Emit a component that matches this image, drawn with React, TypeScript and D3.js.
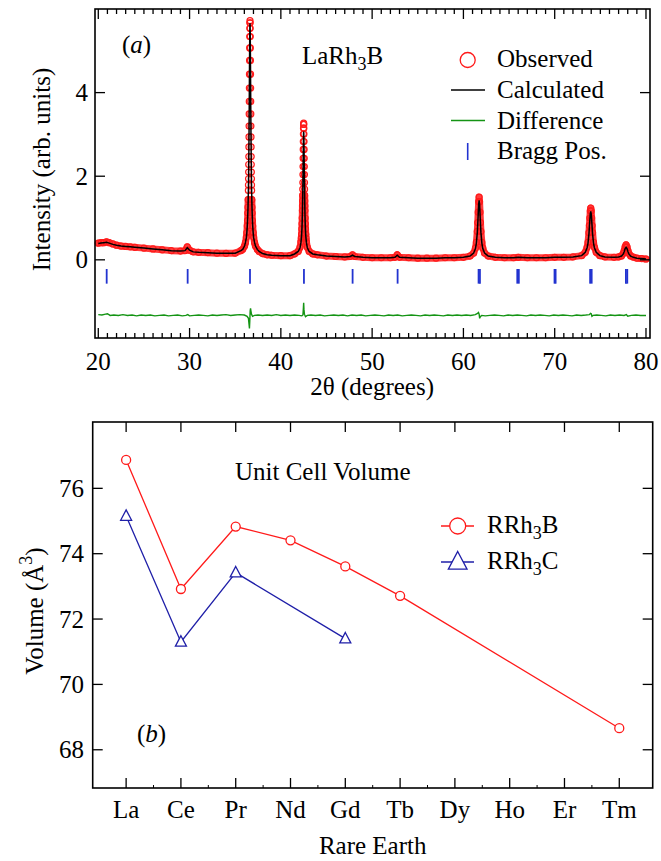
import React from 'react';
import * as d3 from 'd3';

const FONT = '"Liberation Serif", "Times New Roman", Times, serif';

// ---- panel (a): LaRh3B powder pattern, rows are [2theta, observed, calculated]
const pattern: [number, number, number][] = [
  [20.0, 0.40, 0.39], [20.3, 0.41, 0.40], [20.6, 0.41, 0.41], [20.9, 0.43, 0.42],
  [21.2, 0.41, 0.40], [21.6, 0.38, 0.37], [22.0, 0.35, 0.35], [22.5, 0.33, 0.33],
  [23.0, 0.32, 0.32], [23.5, 0.31, 0.31], [24.0, 0.30, 0.30], [25.0, 0.28, 0.28],
  [26.0, 0.26, 0.26], [27.0, 0.24, 0.24], [28.0, 0.22, 0.22], [29.0, 0.21, 0.21],
  [29.5, 0.22, 0.22], [29.75, 0.31, 0.29], [30.0, 0.23, 0.23], [30.4, 0.19, 0.19],
  [31.0, 0.18, 0.18], [32.0, 0.17, 0.17], [33.0, 0.16, 0.16], [34.0, 0.155, 0.155],
  [35.0, 0.16, 0.16], [35.62, 0.22, 0.22], [35.82, 0.25, 0.25], [36.02, 0.33, 0.33],
  [36.12, 0.41, 0.41], [36.22, 0.54, 0.53], [36.27, 0.65, 0.64], [36.32, 0.81, 0.80],
  [36.35, 0.94, 0.93], [36.38, 1.12, 1.10], [36.40, 1.26, 1.24], [36.42, 1.44, 1.42],
  [36.44, 1.66, 1.63], [36.45, 1.79, 1.76], [36.46, 1.94, 1.91], [36.47, 2.10, 2.07],
  [36.48, 2.28, 2.25], [36.49, 2.47, 2.44], [36.50, 2.70, 2.66], [36.51, 2.94, 2.90],
  [36.52, 3.20, 3.16], [36.53, 3.49, 3.44], [36.54, 3.79, 3.74], [36.55, 4.11, 4.05],
  [36.56, 4.44, 4.38], [36.57, 4.77, 4.71], [36.58, 5.07, 5.00], [36.59, 5.34, 5.27],
  [36.60, 5.54, 5.47], [36.61, 5.67, 5.60], [36.62, 5.72, 5.66], [36.63, 5.67, 5.61],
  [36.64, 5.54, 5.49], [36.65, 5.34, 5.29], [36.66, 5.07, 5.03], [36.67, 4.77, 4.73],
  [36.68, 4.44, 4.41], [36.69, 4.11, 4.08], [36.70, 3.79, 3.76], [36.71, 3.49, 3.47],
  [36.72, 3.20, 3.18], [36.73, 2.94, 2.92], [36.74, 2.70, 2.68], [36.75, 2.47, 2.45],
  [36.76, 2.28, 2.26], [36.77, 2.10, 2.09], [36.78, 1.94, 1.93], [36.79, 1.79, 1.78],
  [36.80, 1.66, 1.65], [36.82, 1.44, 1.43], [36.84, 1.26, 1.25], [36.86, 1.12, 1.11],
  [36.89, 0.94, 0.93], [36.92, 0.81, 0.80], [36.97, 0.65, 0.64], [37.02, 0.54, 0.53],
  [37.12, 0.41, 0.41], [37.22, 0.33, 0.33], [37.42, 0.25, 0.25], [37.62, 0.20, 0.20],
  [38.0, 0.15, 0.15], [38.5, 0.12, 0.12], [39.0, 0.11, 0.11], [40.0, 0.10, 0.10],
  [41.0, 0.10, 0.10], [41.5, 0.14, 0.14], [41.9, 0.20, 0.20], [42.1, 0.30, 0.29],
  [42.2, 0.43, 0.41], [42.24, 0.52, 0.50], [42.27, 0.61, 0.58], [42.30, 0.74, 0.70],
  [42.32, 0.86, 0.81], [42.34, 1.00, 0.94], [42.36, 1.18, 1.11], [42.37, 1.29, 1.21],
  [42.38, 1.41, 1.33], [42.39, 1.54, 1.45], [42.40, 1.69, 1.59], [42.41, 1.85, 1.74],
  [42.42, 2.04, 1.92], [42.43, 2.23, 2.10], [42.44, 2.43, 2.29], [42.45, 2.64, 2.48],
  [42.46, 2.83, 2.66], [42.47, 3.01, 2.83], [42.48, 3.15, 2.96], [42.49, 3.24, 3.04],
  [42.50, 3.27, 3.07], [42.51, 3.24, 3.04], [42.52, 3.15, 2.96], [42.53, 3.01, 2.83],
  [42.54, 2.83, 2.66], [42.55, 2.64, 2.48], [42.56, 2.43, 2.29], [42.57, 2.23, 2.10],
  [42.58, 2.04, 1.92], [42.59, 1.85, 1.74], [42.60, 1.69, 1.59], [42.61, 1.54, 1.45],
  [42.62, 1.41, 1.33], [42.63, 1.29, 1.21], [42.64, 1.18, 1.11], [42.66, 1.00, 0.94],
  [42.68, 0.86, 0.81], [42.70, 0.74, 0.70], [42.73, 0.61, 0.58], [42.76, 0.52, 0.50],
  [42.80, 0.43, 0.41], [42.90, 0.30, 0.29], [43.10, 0.20, 0.20], [43.5, 0.14, 0.14],
  [44.0, 0.12, 0.12], [45.0, 0.09, 0.09], [46.0, 0.08, 0.08], [47.0, 0.07, 0.07],
  [47.6, 0.08, 0.08], [47.85, 0.12, 0.11], [48.1, 0.08, 0.08], [49.0, 0.06, 0.06],
  [50.0, 0.05, 0.05], [51.0, 0.05, 0.05], [52.0, 0.05, 0.05], [52.5, 0.06, 0.06],
  [52.75, 0.12, 0.11], [53.0, 0.06, 0.06], [54.0, 0.05, 0.05], [55.0, 0.04, 0.04],
  [56.0, 0.04, 0.04], [57.0, 0.04, 0.04], [58.0, 0.05, 0.05], [59.0, 0.05, 0.05],
  [60.0, 0.06, 0.06], [60.72, 0.09, 0.09], [61.12, 0.16, 0.16], [61.32, 0.28, 0.27],
  [61.42, 0.42, 0.40], [61.52, 0.68, 0.65], [61.57, 0.89, 0.85], [61.62, 1.14, 1.09],
  [61.67, 1.39, 1.33], [61.72, 1.50, 1.42], [61.77, 1.39, 1.33], [61.82, 1.14, 1.09],
  [61.87, 0.89, 0.85], [61.92, 0.68, 0.65], [62.02, 0.42, 0.40], [62.12, 0.28, 0.27],
  [62.32, 0.16, 0.16], [62.72, 0.09, 0.09], [63.5, 0.06, 0.06], [64.5, 0.05, 0.05],
  [65.5, 0.05, 0.05], [66.0, 0.06, 0.06], [67.0, 0.05, 0.05], [68.0, 0.05, 0.05],
  [69.0, 0.05, 0.05], [70.0, 0.06, 0.06], [71.0, 0.06, 0.06], [72.0, 0.07, 0.07],
  [72.95, 0.10, 0.10], [73.35, 0.18, 0.18], [73.55, 0.30, 0.29], [73.65, 0.42, 0.40],
  [73.75, 0.65, 0.62], [73.80, 0.82, 0.78], [73.85, 1.00, 0.95], [73.90, 1.17, 1.10],
  [73.95, 1.24, 1.16], [74.00, 1.17, 1.10], [74.05, 1.00, 0.95], [74.10, 0.82, 0.78],
  [74.15, 0.65, 0.62], [74.25, 0.42, 0.40], [74.35, 0.30, 0.29], [74.55, 0.18, 0.18],
  [74.95, 0.10, 0.10], [75.5, 0.07, 0.07], [76.5, 0.06, 0.06], [77.0, 0.07, 0.07],
  [77.32, 0.094, 0.09], [77.52, 0.155, 0.14], [77.62, 0.22, 0.20], [77.72, 0.31, 0.27],
  [77.82, 0.36, 0.30], [77.92, 0.31, 0.27], [78.02, 0.22, 0.20], [78.12, 0.155, 0.14],
  [78.32, 0.094, 0.09], [78.62, 0.063, 0.06], [79.0, 0.04, 0.04], [79.5, 0.03, 0.03],
  [80.0, 0.02, 0.02],
];

// difference curve (already offset, as plotted)
const difference: [number, number][] = [
  [20.0, -1.31], [20.4, -1.32], [20.8, -1.30], [21.0, -1.29], [21.3, -1.33], [21.7, -1.32],
  [22.2, -1.33], [22.7, -1.31], [23.2, -1.33], [23.7, -1.32], [24.2, -1.34], [24.7, -1.32],
  [25.2, -1.33], [25.7, -1.32], [26.2, -1.34], [26.7, -1.33], [27.2, -1.32], [27.7, -1.34],
  [28.2, -1.33], [28.7, -1.32], [29.2, -1.34], [29.6, -1.33], [29.8, -1.31], [30.0, -1.34],
  [30.5, -1.33], [31.0, -1.32], [31.5, -1.33], [32.0, -1.34], [32.5, -1.32], [33.0, -1.33],
  [33.5, -1.32], [34.0, -1.31], [34.5, -1.33], [35.0, -1.32], [35.5, -1.31], [36.0, -1.32],
  [36.3, -1.35], [36.45, -1.40], [36.52, -1.55], [36.56, -1.64], [36.60, -1.45], [36.64, -1.22],
  [36.68, -1.16], [36.72, -1.22], [36.78, -1.30], [36.9, -1.35], [37.1, -1.33], [37.5, -1.32],
  [38.0, -1.33], [38.5, -1.32], [39.0, -1.33], [39.5, -1.31], [40.0, -1.33], [40.5, -1.32],
  [41.0, -1.33], [41.5, -1.32], [42.0, -1.33], [42.3, -1.34], [42.42, -1.32], [42.47, -1.15],
  [42.50, -1.03], [42.53, -1.18], [42.58, -1.30], [42.7, -1.36], [42.9, -1.33], [43.3, -1.32],
  [43.8, -1.33], [44.3, -1.32], [44.8, -1.34], [45.3, -1.33], [45.8, -1.32], [46.3, -1.33],
  [46.8, -1.32], [47.3, -1.34], [47.8, -1.32], [48.3, -1.33], [48.8, -1.32], [49.3, -1.34],
  [49.8, -1.33], [50.3, -1.32], [50.8, -1.33], [51.3, -1.34], [51.8, -1.32], [52.3, -1.33],
  [52.8, -1.32], [53.3, -1.34], [53.8, -1.33], [54.3, -1.32], [54.8, -1.33], [55.3, -1.34],
  [55.8, -1.32], [56.3, -1.33], [56.8, -1.32], [57.3, -1.33], [57.8, -1.34], [58.3, -1.32],
  [58.8, -1.33], [59.3, -1.32], [59.8, -1.33], [60.3, -1.32], [60.8, -1.33], [61.3, -1.31],
  [61.55, -1.28], [61.65, -1.26], [61.72, -1.30], [61.78, -1.40], [61.85, -1.36], [62.0, -1.33],
  [62.4, -1.34], [62.9, -1.33], [63.4, -1.32], [63.9, -1.33], [64.4, -1.34], [64.9, -1.32],
  [65.4, -1.33], [65.9, -1.32], [66.4, -1.33], [66.9, -1.34], [67.4, -1.32], [67.9, -1.33],
  [68.4, -1.32], [68.9, -1.33], [69.4, -1.34], [69.9, -1.32], [70.4, -1.33], [70.9, -1.32],
  [71.4, -1.33], [71.9, -1.34], [72.4, -1.32], [72.9, -1.33], [73.4, -1.32], [73.8, -1.31],
  [73.92, -1.28], [74.0, -1.29], [74.08, -1.35], [74.2, -1.33], [74.6, -1.32], [75.1, -1.33],
  [75.6, -1.34], [76.1, -1.32], [76.6, -1.33], [77.1, -1.32], [77.6, -1.33], [77.85, -1.31],
  [78.0, -1.35], [78.4, -1.33], [78.9, -1.32], [79.4, -1.33], [80.0, -1.33],
];

const braggPos = [20.92, 29.79, 36.62, 42.53, 47.86, 52.79, 61.66, 61.81, 65.9, 66.07,
  69.98, 70.1, 73.88, 74.05, 77.8, 77.95];
const braggTop = -0.22;
const braggBottom = -0.57;

const thetaMajor = [20, 30, 40, 50, 60, 70, 80];
const thetaMinor = d3.range(20, 81, 1);
const intensityTicks = [0, 2, 4];

// ---- panel (b): unit cell volumes
const rareEarths = ['La', 'Ce', 'Pr', 'Nd', 'Gd', 'Tb', 'Dy', 'Ho', 'Er', 'Tm'];
const volRh3B: (number | null)[] = [76.87, 72.92, 74.83, 74.41, 73.61, 72.71, null, null, null, 68.66];
const volRh3C: (number | null)[] = [75.15, 71.3, 73.42, null, 71.4, null, null, null, null, null];
const volumeTicks = [68, 70, 72, 74, 76];

const RED = '#ff1a1a';
const BLUE = '#1f1fa8';
const GREEN = '#149414';
const BRAGG = '#2233d0';

const xA = d3.scaleLinear().domain([19.64, 80.44]).range([95, 650]);
const yA = d3.scaleLinear().domain([-1.87, 6.0]).range([338, 9]);

const xB = d3.scalePoint<string>().domain(rareEarths).range([92.7, 652.7]).padding(0.61);
const yB = d3.scaleLinear().domain([66.83, 78.03]).range([788, 422]);

const tri = (cx: number, cy: number, s: number) =>
  `M${cx},${cy - s * 0.62} L${cx + s * 0.55},${cy + s * 0.42} L${cx - s * 0.55},${cy + s * 0.42} Z`;

// every label goes through this so the serif face is set on the element itself
const T = (props: any) => <text fontFamily={FONT} fontSize={25} fill="#000" {...props} />;

export default function App() {
  const obsBand = d3.line<[number, number, number]>()
    .defined(d => d[1] < 1.6)
    .x(d => xA(d[0]))
    .y(d => yA(d[1]));
  const calcLine = d3.line<[number, number, number]>()
    .x(d => xA(d[0]))
    .y(d => yA(d[2]));
  const diffLine = d3.line<[number, number]>()
    .x(d => xA(d[0]))
    .y(d => yA(d[1]));

  const ptsB = rareEarths.map((r, i) => ({ r, v: volRh3B[i] })).filter(d => d.v != null) as { r: string; v: number }[];
  const ptsC = rareEarths.map((r, i) => ({ r, v: volRh3C[i] })).filter(d => d.v != null) as { r: string; v: number }[];
  const volLine = d3.line<{ r: string; v: number }>()
    .x(d => xB(d.r) as number)
    .y(d => yB(d.v));

  const [ax0, ax1] = xA.range();
  const [ay0, ay1] = yA.range();
  const [bx0, bx1] = [92.7, 652.7];
  const [by0, by1] = yB.range();

  return (
    <svg width={661} height={861} viewBox="0 0 661 861"
      style={{ position: 'absolute', left: 0, top: 0, display: 'block', background: '#fff', fontFamily: FONT }}>
      {/* ================= panel (a) ================= */}
      <g>
        {/* observed: dense band + open circles */}
        <path d={obsBand(pattern) || ''} fill="none" stroke={RED} strokeOpacity={0.85}
          strokeWidth={7} strokeLinejoin="round" strokeLinecap="round" />
        {pattern.map((d, i) => (
          <circle key={i} cx={xA(d[0])} cy={yA(d[1])} r={3} fill="none" stroke={RED} strokeWidth={1.2} />
        ))}
        <path d={calcLine(pattern) || ''} fill="none" stroke="#000" strokeWidth={1.5} />
        {braggPos.map((b, i) => (
          <line key={i} x1={xA(b)} x2={xA(b)} y1={yA(braggTop)} y2={yA(braggBottom)}
            stroke={BRAGG} strokeWidth={1.8} />
        ))}
        <path d={diffLine(difference) || ''} fill="none" stroke={GREEN} strokeWidth={1.4} />

        {/* ticks */}
        {thetaMinor.map(t => {
          const major = t % 10 === 0;
          const len = major ? 10 : 5;
          return (
            <g key={t}>
              <line x1={xA(t)} x2={xA(t)} y1={ay0} y2={ay0 - len} stroke="#000" strokeWidth={1.3} />
              <line x1={xA(t)} x2={xA(t)} y1={ay1} y2={ay1 + len} stroke="#000" strokeWidth={1.3} />
            </g>
          );
        })}
        {intensityTicks.map(t => (
          <g key={t}>
            <line x1={ax0} x2={ax0 + 10} y1={yA(t)} y2={yA(t)} stroke="#000" strokeWidth={1.3} />
            <line x1={ax1} x2={ax1 - 10} y1={yA(t)} y2={yA(t)} stroke="#000" strokeWidth={1.3} />
            <T x={88} y={yA(t) + 8.5} textAnchor="end">{t}</T>
          </g>
        ))}
        {thetaMajor.map(t => (
          <T key={t} x={xA(t)} y={370} textAnchor="middle">{t}</T>
        ))}
        <rect x={ax0} y={ay1} width={ax1 - ax0} height={ay0 - ay1} fill="none" stroke="#000" strokeWidth={1.6} />

        <T x={xA(50)} y={395} textAnchor="middle">2θ (degrees)</T>
        <T transform={`translate(50,${(ay0 + ay1) / 2 - 4}) rotate(-90)`} textAnchor="middle">
          Intensity (arb. units)
        </T>

        <T x={122} y={53}>(<tspan fontStyle="italic">a</tspan>)</T>
        <T x={302} y={64}>
          LaRh<tspan dy={6} fontSize={18}>3</tspan><tspan dy={-6}>B</tspan>
        </T>

        {/* legend */}
        <circle cx={467.7} cy={60} r={7.5} fill="none" stroke={RED} strokeWidth={1.3} />
        <line x1={451} x2={485} y1={90} y2={90} stroke="#000" strokeWidth={1.4} />
        <line x1={451} x2={485} y1={120.5} y2={120.5} stroke={GREEN} strokeWidth={1.4} />
        <line x1={467.7} x2={467.7} y1={143} y2={160} stroke={BRAGG} strokeWidth={1.6} />
        <T x={497} y={67}>Observed</T>
        <T x={497} y={98}>Calculated</T>
        <T x={497} y={128.5}>Difference</T>
        <T x={497} y={159}>Bragg Pos.</T>
      </g>

      {/* ================= panel (b) ================= */}
      <g>
        <path d={volLine(ptsB) || ''} fill="none" stroke={RED} strokeWidth={1.3} />
        <path d={volLine(ptsC) || ''} fill="none" stroke={BLUE} strokeWidth={1.3} />
        {ptsB.map(d => (
          <circle key={d.r} cx={xB(d.r)} cy={yB(d.v)} r={4.5} fill="#fff" stroke={RED} strokeWidth={1.3} />
        ))}
        {ptsC.map(d => (
          <path key={d.r} d={tri(xB(d.r) as number, yB(d.v), 10)} fill="#fff" stroke={BLUE} strokeWidth={1.3} />
        ))}

        {rareEarths.map((r, i) => (
          <g key={r}>
            <line x1={xB(r)} x2={xB(r)} y1={by0} y2={by0 - 10} stroke="#000" strokeWidth={1.3} />
            <line x1={xB(r)} x2={xB(r)} y1={by1} y2={by1 + 10} stroke="#000" strokeWidth={1.3} />
            {i < rareEarths.length - 1 && (
              <line x1={((xB(r) as number) + (xB(rareEarths[i + 1]) as number)) / 2}
                x2={((xB(r) as number) + (xB(rareEarths[i + 1]) as number)) / 2}
                y1={by0} y2={by0 - 3} stroke="#000" strokeWidth={1} />
            )}
            <T x={xB(r)} y={818} textAnchor="middle">{r}</T>
          </g>
        ))}
        {volumeTicks.map(t => (
          <g key={t}>
            <line x1={bx0} x2={bx0 + 10} y1={yB(t)} y2={yB(t)} stroke="#000" strokeWidth={1.3} />
            <line x1={bx1} x2={bx1 - 10} y1={yB(t)} y2={yB(t)} stroke="#000" strokeWidth={1.3} />
            <T x={84} y={yB(t) + 8.5} textAnchor="end">{t}</T>
          </g>
        ))}
        <rect x={bx0} y={by1} width={bx1 - bx0} height={by0 - by1} fill="none" stroke="#000" strokeWidth={1.6} />

        <T x={(bx0 + bx1) / 2} y={854} textAnchor="middle">Rare Earth</T>
        <T transform={`translate(43,${(by0 + by1) / 2 + 6}) rotate(-90)`} textAnchor="middle">
          Volume (Å<tspan dy={-11} fontSize={18}>3</tspan><tspan dy={11}>)</tspan>
        </T>

        <T x={235} y={480}>Unit Cell Volume</T>
        <T x={137} y={742}>(<tspan fontStyle="italic">b</tspan>)</T>

        {/* legend */}
        <line x1={441} x2={474} y1={526} y2={526} stroke={RED} strokeWidth={1.3} />
        <circle cx={457.7} cy={526} r={8} fill="#fff" stroke={RED} strokeWidth={1.3} />
        <line x1={441} x2={474} y1={562} y2={562} stroke={BLUE} strokeWidth={1.3} />
        <path d={tri(457.7, 562, 17)} fill="#fff" stroke={BLUE} strokeWidth={1.3} />
        <T x={487} y={533}>
          RRh<tspan dy={6} fontSize={18}>3</tspan><tspan dy={-6}>B</tspan>
        </T>
        <T x={487} y={569}>
          RRh<tspan dy={6} fontSize={18}>3</tspan><tspan dy={-6}>C</tspan>
        </T>
      </g>
    </svg>
  );
}
